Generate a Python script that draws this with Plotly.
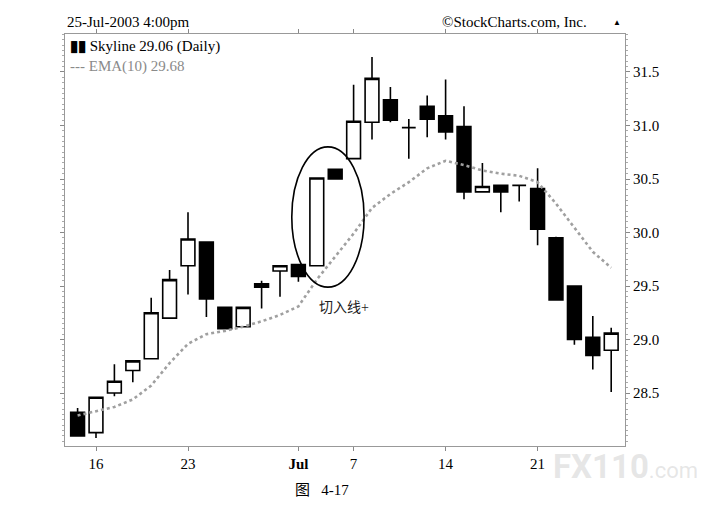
import plotly.graph_objects as go

# trading days, 13-Jun-2003 .. 25-Jul-2003 (4-Jul holiday)
dates = ['2003-06-13', '2003-06-16', '2003-06-17', '2003-06-18', '2003-06-19',
         '2003-06-20', '2003-06-23', '2003-06-24', '2003-06-25', '2003-06-26',
         '2003-06-27', '2003-06-30', '2003-07-01', '2003-07-02', '2003-07-03',
         '2003-07-07', '2003-07-08', '2003-07-09', '2003-07-10', '2003-07-11',
         '2003-07-14', '2003-07-15', '2003-07-16', '2003-07-17', '2003-07-18',
         '2003-07-21', '2003-07-22', '2003-07-23', '2003-07-24', '2003-07-25']

opens = [28.32, 28.13, 28.50, 28.71, 28.82, 29.20, 29.69, 29.91, 29.30, 29.12,
         29.52, 29.64, 29.70, 29.69, 30.59, 30.69, 31.03, 31.24, 30.98, 31.18,
         31.09, 30.99, 30.38, 30.44, 30.44, 30.41, 29.95, 29.50, 29.02, 28.90]
highs = [28.36, 28.46, 28.77, 28.80, 29.39, 29.65, 30.19, 29.91, 29.30, 29.30,
         29.55, 29.69, 29.70, 30.51, 30.59, 31.38, 31.64, 31.36, 31.06, 31.28,
         31.43, 31.18, 30.65, 30.44, 30.44, 30.60, 29.96, 29.50, 29.22, 29.11]
lows = [28.10, 28.08, 28.47, 28.60, 28.82, 29.20, 29.42, 29.21, 29.10, 29.11,
        29.29, 29.40, 29.54, 29.69, 30.50, 30.69, 30.87, 31.03, 30.69, 30.89,
        30.87, 30.31, 30.38, 30.19, 30.29, 29.88, 29.37, 28.95, 28.72, 28.51]
closes = [28.10, 28.46, 28.61, 28.80, 29.25, 29.56, 29.94, 29.38, 29.10, 29.30,
          29.49, 29.69, 29.59, 30.51, 30.50, 31.04, 31.44, 31.05, 30.98, 31.06,
          30.94, 30.38, 30.43, 30.38, 30.44, 30.03, 29.37, 29.00, 28.85, 29.06]

ema10 = [28.29, 28.33, 28.37, 28.44, 28.57, 28.78, 28.96, 29.05, 29.08, 29.12,
         29.17, 29.23, 29.31, 29.56, 29.77, 29.99, 30.23, 30.36, 30.47, 30.60,
         30.67, 30.63, 30.58, 30.55, 30.53, 30.47, 30.27, 30.04, 29.82, 29.67]

tick_dates = ['2003-06-16', '2003-06-23', '2003-07-01', '2003-07-07', '2003-07-14', '2003-07-21']
tick_text = ['16', '23', '<b>Jul</b>', '7', '14', '21']

serif = 'Liberation Serif, Times New Roman, Noto Sans CJK SC'

fig = go.Figure()
fig.add_trace(go.Scatter(x=dates, y=ema10, mode='lines',
                         line=dict(color='#a0a0a0', width=2.6, dash='dot'),
                         hoverinfo='skip'))
fig.add_trace(go.Candlestick(x=dates, open=opens, high=highs, low=lows, close=closes,
                             increasing=dict(fillcolor='white', line=dict(color='black', width=1.6)),
                             decreasing=dict(fillcolor='black', line=dict(color='black', width=1.6)),
                             whiskerwidth=0))

# ellipse around the piercing pattern
fig.add_shape(type='circle', xref='x', yref='y', x0=11.64, x1=15.57, y0=29.49, y1=30.80,
              line=dict(color='black', width=1.6))
fig.add_annotation(x=14.5, y=29.30, xref='x', yref='y', text='切入线+', showarrow=False,
                   font=dict(family=serif, size=14, color='#222'))

# header and legend texts
fig.add_annotation(x=0, y=1.03, xref='paper', yref='paper', text='25-Jul-2003 4:00pm',
                   showarrow=False, xanchor='left', yanchor='middle',
                   font=dict(family=serif, size=15, color='black'))
fig.add_annotation(x=0.936, y=1.03, xref='paper', yref='paper', text='©StockCharts.com, Inc.',
                   showarrow=False, xanchor='right', yanchor='middle',
                   font=dict(family=serif, size=15, color='black'))
fig.add_annotation(x=0.997, y=1.027, xref='paper', yref='paper', text='▲',
                   showarrow=False, yanchor='middle', font=dict(size=8, color='black'))
fig.add_annotation(x=0.006, y=0.97, xref='paper', yref='paper', text='<b>▮▮</b> Skyline 29.06 (Daily)',
                   showarrow=False, xanchor='left', yanchor='middle',
                   font=dict(family=serif, size=15, color='black'))
fig.add_annotation(x=0.006, y=0.922, xref='paper', yref='paper', text='--- EMA(10) 29.68',
                   showarrow=False, xanchor='left', yanchor='middle',
                   font=dict(family=serif, size=15, color='#8a8a8a'))

# caption and watermark
fig.add_annotation(x=0.459, y=-0.107, xref='paper', yref='paper', text='图   4-17',
                   showarrow=False, yanchor='middle', font=dict(family=serif, size=15, color='black'))
fig.add_annotation(x=1.0, y=-0.05, xref='paper', yref='paper',
                   text='<b>FX110</b><span style="font-size:22px">.com</span>',
                   showarrow=False, xanchor='center', yanchor='middle',
                   font=dict(family='Roboto, Arial', size=33, color='rgba(200,200,200,0.45)'))

fig.update_layout(
    width=715, height=512,
    margin=dict(l=57, r=98, t=26, b=74),
    paper_bgcolor='white', plot_bgcolor='white',
    showlegend=False,
    boxgap=0.25, boxgroupgap=0,
    font=dict(family=serif, size=15, color='black'),
    xaxis=dict(type='category', range=[-0.685, 29.75], rangeslider=dict(visible=False),
               tickvals=tick_dates, ticktext=tick_text, ticks='outside', ticklen=4,
               tickcolor='#888', showgrid=False, zeroline=False,
               showline=True, linecolor='#999', linewidth=1, mirror='allticks'),
    yaxis=dict(side='right', range=[28.005, 31.855], tickvals=[28.5, 29.0, 29.5, 30.0, 30.5, 31.0, 31.5],
               tickformat='.1f', ticks='outside', ticklen=4, tickcolor='#888',
               minor=dict(dtick=0.05, ticks='outside', ticklen=2, tickcolor='#aaa'),
               showgrid=False, zeroline=False,
               showline=True, linecolor='#999', linewidth=1, mirror='allticks'),
)

fig.write_html('out.html')
